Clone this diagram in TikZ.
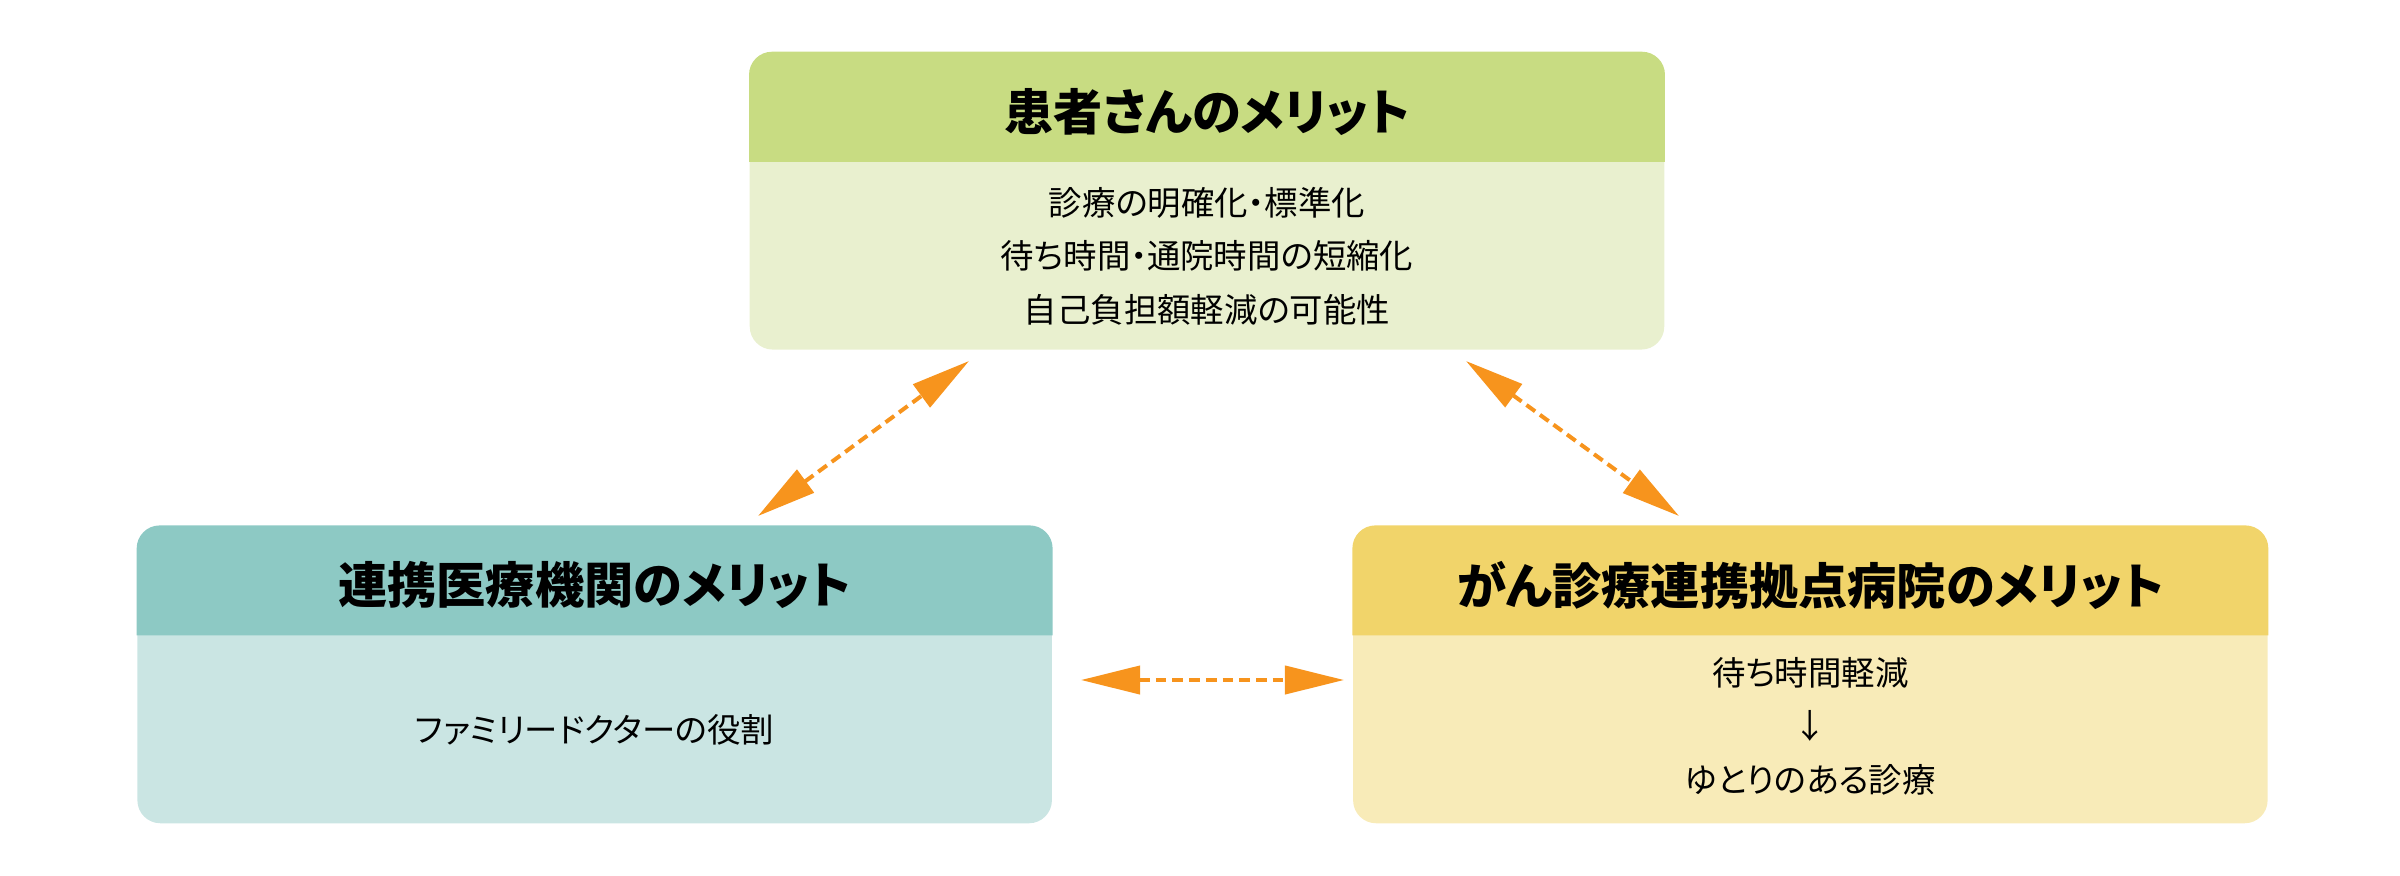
\documentclass[tikz,border=0pt]{standalone}
\usepackage{fontspec}
\setmainfont{Noto Sans CJK JP}[RawFeature=+palt]
\usetikzlibrary{arrows.meta,positioning}

\definecolor{patHead}{HTML}{C8DC82}
\definecolor{patBody}{HTML}{E9F0CF}
\definecolor{clinHead}{HTML}{8DC9C4}
\definecolor{clinBody}{HTML}{CAE5E3}
\definecolor{hospHead}{HTML}{F1D46A}
\definecolor{hospBody}{HTML}{F8EBB8}
\definecolor{linkOrange}{HTML}{F7941D}

\tikzset{
  panel/.style={rectangle,rounded corners=0.23cm,minimum width=9.14cm,minimum height=2.97cm,inner sep=0pt},
  title/.style={font=\fontsize{14}{17}\selectfont\bfseries},
  body/.style={align=center,font=\fontsize{9.5}{15.2}\selectfont},
  link/.style={{Triangle[length=0.59cm,width=0.28cm]}-{Triangle[length=0.59cm,width=0.28cm]},
    linkOrange,line width=0.04cm,dash pattern=on 0.107cm off 0.06cm},
}

\begin{document}
\begin{tikzpicture}[x=0.01cm,y=-0.01cm]
\useasboundingbox (0,0) rectangle (2400,875);

% panels
\node[panel,fill=patBody]  (pat)  at (1207,201) {};
\node[panel,fill=clinBody] (clin) [below=1.75cm of pat, xshift=-6.12cm] {};
\node[panel,fill=hospBody] (hosp) [below=1.75cm of pat, xshift=6.03cm] {};

% headers
\fill[patHead] ([yshift=-1.1cm]pat.north west) [rounded corners=0.23cm] -- (pat.north west) -- (pat.north east) [sharp corners] -- ([yshift=-1.1cm]pat.north east) -- cycle;
\fill[clinHead] ([yshift=-1.1cm]clin.north west) [rounded corners=0.23cm] -- (clin.north west) -- (clin.north east) [sharp corners] -- ([yshift=-1.1cm]clin.north east) -- cycle;
\fill[hospHead] ([yshift=-1.1cm]hosp.north west) [rounded corners=0.23cm] -- (hosp.north west) -- (hosp.north east) [sharp corners] -- ([yshift=-1.1cm]hosp.north east) -- cycle;

\node[title] (patTitle)  at ([yshift=-0.6cm]pat.north)  {患者さんのメリット};
\node[title] (clinTitle) at ([yshift=-0.6cm]clin.north) {連携医療機関のメリット};
\node[title] (hospTitle) at ([yshift=-0.6cm]hosp.north) {がん診療連携拠点病院のメリット};

\node[body] (patText)  at ([yshift=0.94cm]pat.south)  {診療の明確化・標準化\\待ち時間・通院時間の短縮化\\自己負担額軽減の可能性};
\node[body] (clinText) at ([yshift=0.94cm]clin.south) {ファミリードクターの役割};
\node[body] (hospText) at ([yshift=0.98cm]hosp.south) {待ち時間軽減\\↓\\ゆとりのある診療};

% links
\coordinate (clinEnd) at (758,516);
\coordinate (patEndL) at (969,361);
\coordinate (patEndR) at (1466,361);
\coordinate (hospEnd) at (1679,516);
\coordinate (clinSide) at (1081,680);
\coordinate (hospSide) at (1344,680);

\draw[link] (clinEnd) -- (patEndL);
\draw[link] (patEndR) -- (hospEnd);
\draw[link] (clinSide) -- (hospSide);

\end{tikzpicture}
\end{document}
